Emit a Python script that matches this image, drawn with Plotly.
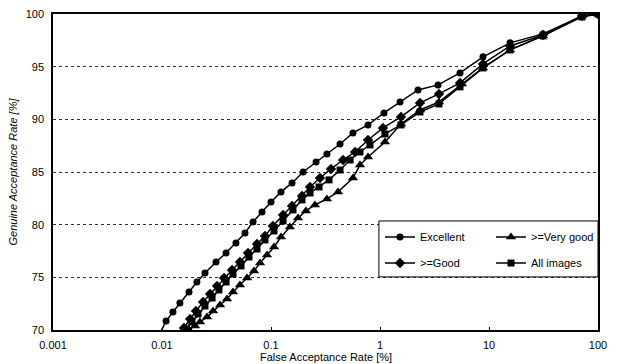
import plotly.graph_objects as go

# ---------------- data ----------------
exc_far = [0.0095, 0.0109, 0.0126, 0.0146, 0.0177, 0.0209, 0.0248, 0.0313, 0.0387, 0.0477, 0.0577,
           0.0684, 0.0827, 0.100, 0.1235, 0.156, 0.197, 0.259, 0.326, 0.43, 0.565, 0.776,
           1.088, 1.526, 2.232, 3.405, 5.42, 8.81, 15.6, 31.3, 71.3, 100]
exc_gar = [69.6, 70.85, 71.71, 72.56, 73.61, 74.56, 75.41, 76.46, 77.31, 78.26, 79.21,
           80.26, 81.21, 82.16, 83.11, 83.96, 85.00, 85.95, 86.71, 87.66, 88.71, 89.47,
           90.61, 91.65, 92.79, 93.27, 94.41, 95.93, 97.26, 98.11, 99.82, 100]

good_far = [0.0159, 0.0181, 0.0205, 0.0238, 0.0276, 0.0320, 0.0371, 0.0439, 0.0519, 0.0615, 0.0744,
            0.0881, 0.104, 0.129, 0.156, 0.1925, 0.228, 0.2815, 0.355, 0.458, 0.590, 0.776,
            1.065, 1.558, 2.328, 3.477, 5.42, 8.81, 15.6, 31.3, 71.3, 100]
good_gar = [70.19, 71.04, 71.80, 72.66, 73.42, 74.18, 74.94, 75.70, 76.46, 77.31, 78.17,
            78.93, 79.88, 80.92, 81.78, 82.73, 83.58, 84.43, 85.29, 86.14, 86.90, 88.04,
            89.18, 90.23, 91.56, 92.41, 93.46, 95.26, 96.97, 98.01, 99.82, 100]

all_far = [0.0166, 0.0188, 0.0214, 0.0248, 0.0288, 0.0333, 0.0387, 0.0448, 0.0531, 0.0628, 0.0744,
           0.0881, 0.1065, 0.129, 0.159, 0.1925, 0.228, 0.276, 0.3405, 0.430, 0.531, 0.655,
           0.809, 1.111, 1.558, 2.328, 3.477, 5.42, 8.81, 15.6, 31.3, 71.3, 100]
all_gar = [70.09, 70.76, 71.52, 72.28, 73.04, 73.80, 74.56, 75.32, 76.08, 76.93, 77.69,
           78.55, 79.40, 80.35, 81.40, 82.35, 83.01, 83.58, 84.25, 85.19, 86.14, 86.90,
           87.57, 88.61, 89.47, 90.70, 91.46, 93.08, 94.88, 96.59, 97.92, 99.72, 100]

vg_far = [0.0177, 0.0201, 0.0223, 0.0259, 0.0294, 0.0341, 0.0395, 0.0448, 0.0519, 0.0603, 0.0698,
          0.0793, 0.0919, 0.1065, 0.1235, 0.149, 0.177, 0.209, 0.253, 0.326, 0.412, 0.565,
          0.655, 0.776, 1.111, 1.558, 2.328, 3.477, 5.65, 8.81, 15.6, 31.3, 71.3, 100]
vg_gar = [70.0, 70.38, 70.76, 71.23, 71.80, 72.37, 72.94, 73.61, 74.27, 74.94, 75.60,
          76.36, 77.12, 77.88, 78.83, 79.78, 80.64, 81.30, 81.87, 82.44, 83.11, 84.43,
          85.67, 86.43, 87.85, 89.56, 90.89, 91.65, 93.36, 94.88, 96.59, 97.92, 99.82, 100]

x_ticks = [0.001, 0.01, 0.1, 1, 10, 100]
x_tick_labels = ["0.001", "0.01", "0.1", "1", "10", "100"]
y_ticks = [70, 75, 80, 85, 90, 95, 100]

FONT = "Liberation Sans, Arial, sans-serif"

fig = go.Figure()

def add(name, xs, ys, symbol, size, legend):
    fig.add_trace(go.Scatter(
        x=xs, y=ys, name=name, mode="lines+markers",
        line=dict(color="black", width=1.5),
        marker=dict(symbol=symbol, size=size, color="black", line=dict(width=0)),
        legend=legend,
    ))

add("Excellent", exc_far, exc_gar, "circle", 7, "legend")
add(">=Very good", vg_far, vg_gar, "triangle-up", 9, "legend")
add(">=Good", good_far, good_gar, "diamond", 8, "legend2")
add("All images", all_far, all_gar, "square", 7, "legend2")

# legend frame
fig.add_shape(type="rect", xref="paper", yref="paper",
              x0=0.598, x1=1.0, y0=0.168, y1=0.345,
              line=dict(color="black", width=1), fillcolor="white", layer="above")

# x-axis title placed below tick labels
fig.add_annotation(text="False Acceptance Rate [%]", xref="paper", yref="paper",
                   x=0.5, y=-0.087, xanchor="center", yanchor="middle",
                   showarrow=False, font=dict(family=FONT, size=11, color="black"))

leg_common = dict(orientation="h", xanchor="left", yanchor="middle",
                  bgcolor="rgba(0,0,0,0)", borderwidth=0,
                  font=dict(family=FONT, size=11, color="black"),
                  entrywidth=66, entrywidthmode="pixels", itemwidth=30,
                  traceorder="normal")

fig.update_layout(
    width=617, height=364,
    margin=dict(l=53, r=19, t=14, b=34),
    paper_bgcolor="white", plot_bgcolor="white",
    font=dict(family=FONT, size=11, color="black"),
    showlegend=True,
    legend=dict(x=0.600, y=0.294, **leg_common),
    legend2=dict(x=0.600, y=0.212, **leg_common),
    xaxis=dict(
        type="log", range=[-3, 2], automargin=False,
        tickvals=x_ticks, ticktext=x_tick_labels,
        showgrid=False, zeroline=False,
        showline=True, linecolor="black", linewidth=1.5, mirror=True,
        ticks="inside", ticklen=3, tickcolor="black",
        tickfont=dict(size=11),
        ticklabelstandoff=4,
    ),
    yaxis=dict(
        range=[70, 100], tickvals=y_ticks, automargin=False,
        showgrid=True, gridcolor="#333333", gridwidth=1, griddash="dot",
        zeroline=False,
        showline=True, linecolor="black", linewidth=1.5, mirror=True,
        ticks="", tickfont=dict(size=11),
        ticklabelstandoff=5,
        title=dict(text="Genuine Acceptance Rate [%]",
                   font=dict(size=11, style="italic"), standoff=6),
    ),
)

fig.write_html("out.html")
